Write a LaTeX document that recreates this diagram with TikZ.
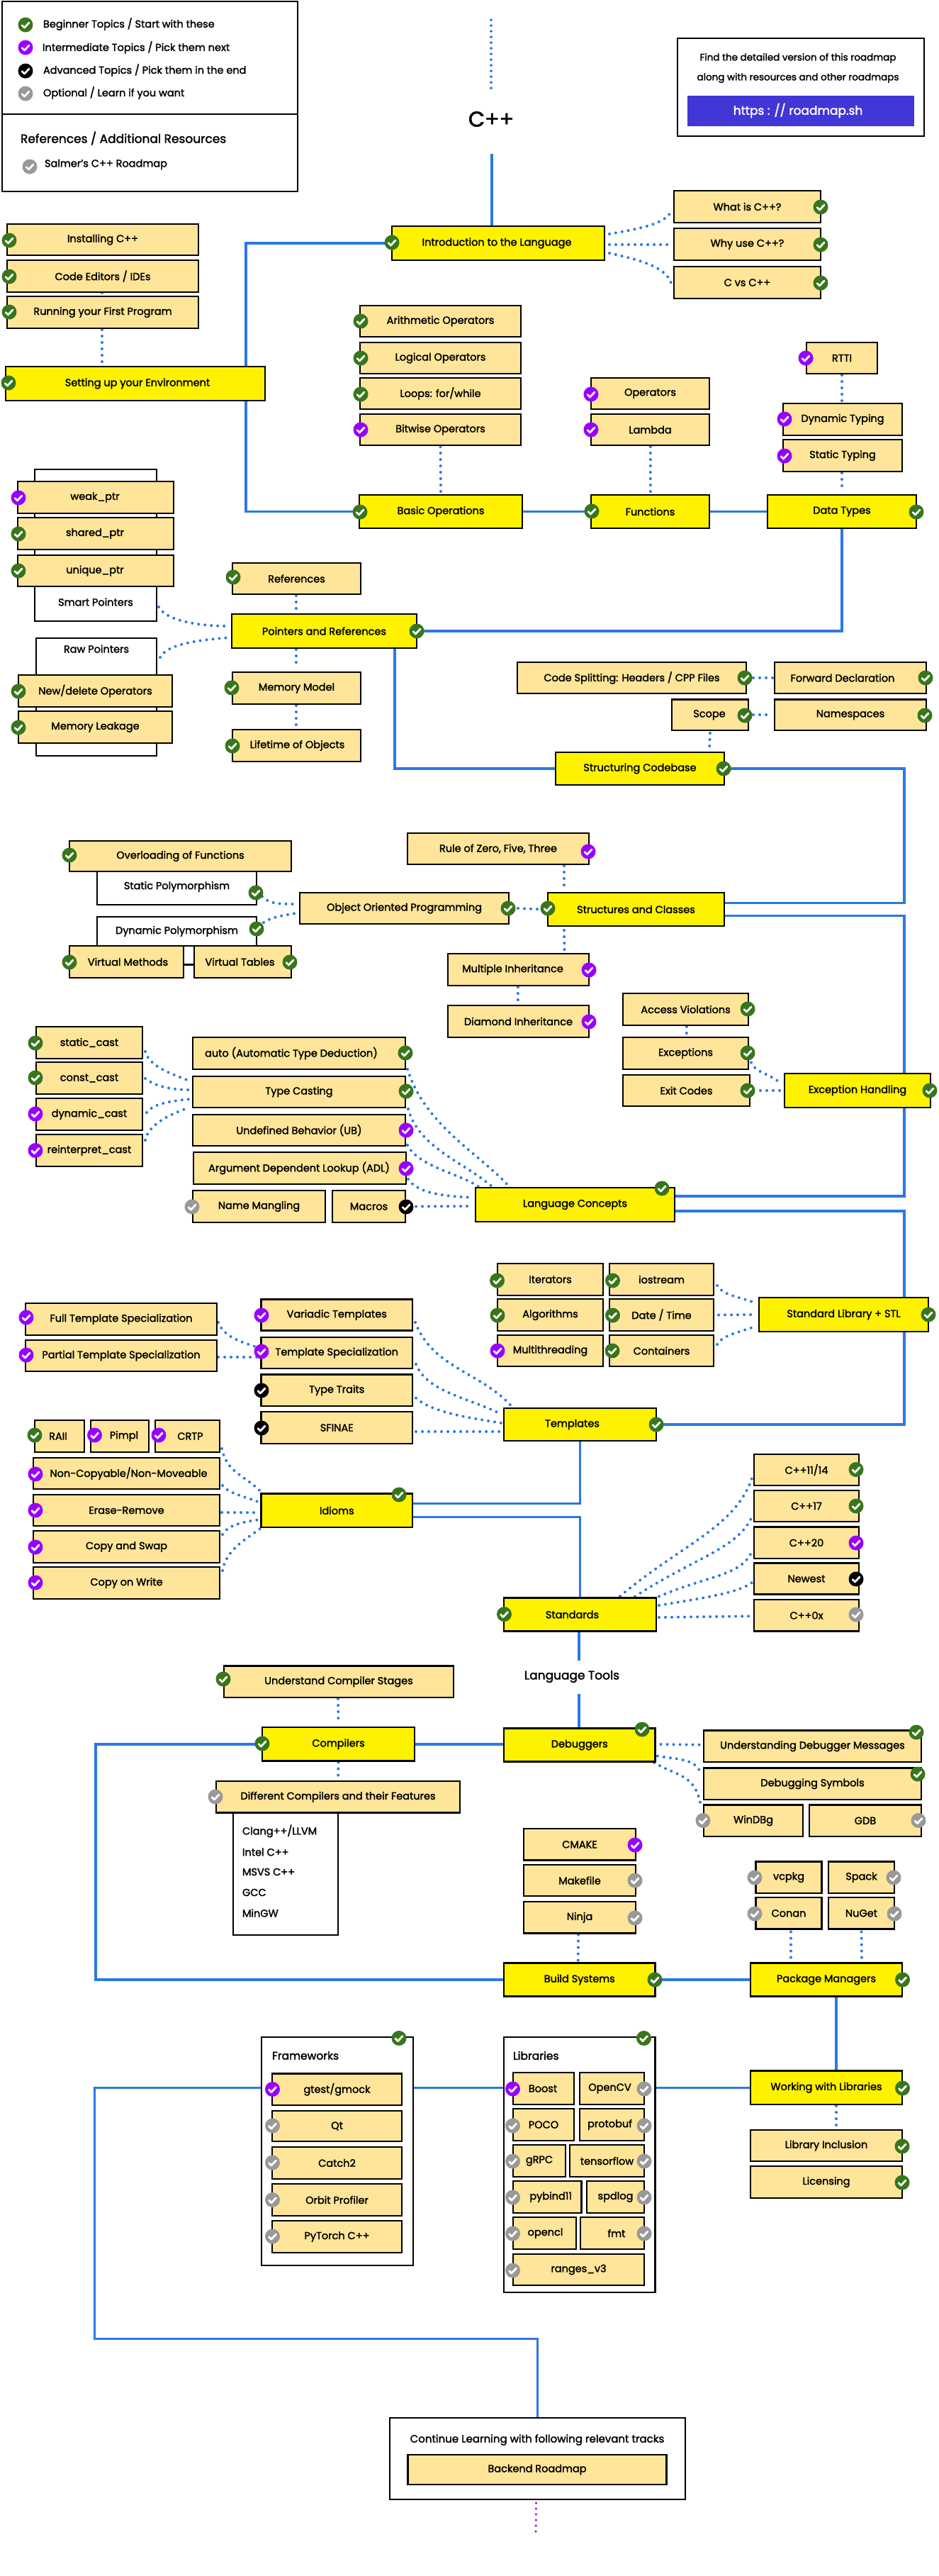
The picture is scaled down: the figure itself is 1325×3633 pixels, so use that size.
\documentclass[tikz,border=0pt]{standalone}
\usepackage{fontspec}
\setmainfont{Poppins}[FakeBold=2]
\usetikzlibrary{calc}
\definecolor{cg}{HTML}{38761D}
\definecolor{cp}{HTML}{9900FF}
\definecolor{ck}{HTML}{000000}
\definecolor{cy}{HTML}{999999}
\definecolor{bluec}{HTML}{2B78E4}
\definecolor{subc}{HTML}{FFE599}
\definecolor{btn}{HTML}{4136D6}
\pgfdeclarelayer{con}
\pgfsetlayers{con,main}
\newcounter{chkno}
\newcommand\nfont{\fontsize{14.5}{18}\selectfont}
\newcommand\sh[1]{\hspace*{\dimexpr#1pt*2\relax}}
\newcommand\bx[7]{\node[#1,minimum width={#5pt-#3pt},minimum height={#6pt-#4pt}] (#2) at ({(#3+#5)/2},{(#4+#6)/2}) {#7};}
\newcommand\chk[3]{\stepcounter{chkno}\node[chkdot,fill=#1] (ck\arabic{chkno}) at (#2,#3) {};}
\tikzset{
 anybox/.style={draw=black,line width=2.8pt,inner sep=0pt,outer sep=0pt,align=center,font=\nfont},
 subbox/.style={anybox,fill=subc},
 mainbox/.style={anybox,fill=yellow},
 panelbox/.style={anybox,fill=white},
 plain/.style={inner sep=0pt,outer sep=0pt,font=\nfont},
 lefttext/.style={plain,anchor=west},
 chkdot/.style={circle,minimum size=21pt,inner sep=0pt,outer sep=0pt,
   path picture={\draw[white,line width=2.8pt,line cap=round,line join=round]
   ($(path picture bounding box.center)+(-5,0.5)$) -- ++(3.5,3.5) -- ++(6.5,-7);}},
 solidc/.style={draw=bluec,line width=3.5pt},
 dotc/.style={draw=bluec,line width=4pt,line cap=round,dash pattern=on 0.01pt off 9pt},
 dotp/.style={draw=cp,line width=3.5pt,line cap=round,dash pattern=on 0.01pt off 8pt},
}
\begin{document}
\begin{tikzpicture}[x=1pt,y=-1pt]
\useasboundingbox (0,0) rectangle (1325,3633);
\begin{pgfonlayer}{con}\fill[white] (0,0) rectangle (1325,3633);\end{pgfonlayer}

% legend
\bx{panelbox}{lega}{3}{2}{420}{161}{}
\bx{panelbox}{legb}{3}{161}{420}{270}{}
\chk{cg}{36}{35}\node[lefttext] (l1) at (61,34) {Beginner Topics / Start with these};
\chk{cp}{36}{67}\node[lefttext] (l2) at (60,67) {Intermediate Topics / Pick them next};
\chk{ck}{36}{100}\node[lefttext] (l3) at (61,99) {Advanced Topics / Pick them in the end};
\chk{cy}{36}{132}\node[lefttext] (l4) at (61,131) {Optional / Learn if you want};
\node[lefttext,font=\fontsize{17}{22}\selectfont] (l5) at (29,195) {References / Additional Resources};
\chk{cy}{42}{235}\node[lefttext] (l6) at (63,232) {Salmer's C++ Roadmap};

% title and link box
\node[plain,font=\fontsize{30}{36}\selectfont] (cpp) at (693,168) {C++};
\bx{panelbox}{linkp}{956}{54}{1304}{192}{}
\node[plain,font=\fontsize{13.5}{16}\selectfont] (lk1) at (1126,82) {Find the detailed version of this roadmap};
\node[plain,font=\fontsize{13.5}{16}\selectfont] (lk2) at (1126,110) {along with resources and other roadmaps};
\node[fill=btn,text=white,inner sep=0pt,outer sep=0pt,minimum width=320pt,minimum height=43pt,font=\fontsize{17}{22}\selectfont] (lk3) at (1130,156) {\hspace*{-8pt}https : // roadmap.sh};

% white panels
\bx{panelbox}{smart}{49}{662}{221}{876}{\\[153pt]Smart Pointers}
\bx{panelbox}{raw}{51}{900}{221}{1066}{Raw Pointers\\[118pt]\mbox{}}
\bx{panelbox}{stp}{137}{1225}{362}{1276}{Static Polymorphism}
\bx{panelbox}{dyp}{137}{1293}{362}{1334}{Dynamic Polymorphism}
\bx{panelbox}{comps}{329}{2550}{477}{2729}{}
\bx{panelbox}{fw}{369}{2873}{583}{3195}{}
\bx{panelbox}{libs}{711}{2873}{924.5}{3233}{}
\bx{panelbox}{fin}{550}{3410}{967}{3525}{}
\node[lefttext] (c1) at (342,2582.5) {Clang++/LLVM};
\node[lefttext] (c2) at (342,2612) {Intel C++};
\node[lefttext] (c3) at (342,2640) {MSVS C++};
\node[lefttext] (c4) at (342,2669) {GCC};
\node[lefttext] (c5) at (342,2698) {MinGW};
\node[lefttext,font=\fontsize{15.5}{20}\selectfont] (fwt) at (384,2899) {Frameworks};
\node[lefttext,font=\fontsize{15.5}{20}\selectfont] (libt) at (724,2899) {Libraries};
\node[plain,font=\fontsize{15}{18}\selectfont] (fint) at (758,3441) {Continue Learning with following relevant tracks};

% first rows
\bx{mainbox}{intro}{553}{319}{853}{367}{\sh{-2}Introduction to the Language}
\bx{subbox}{what}{951}{269}{1158}{314}{What is C++?}
\bx{subbox}{why}{951}{322}{1158}{367}{Why use C++?}
\bx{subbox}{cvs}{951}{376}{1158}{421}{C vs C++}
\bx{subbox}{inst}{10}{316}{280}{360}{Installing C++}
\bx{subbox}{code}{10}{367}{280}{412}{Code Editors / IDEs}
\bx{subbox}{run}{10}{418}{280}{463}{Running your First Program}
\bx{mainbox}{setup}{8}{517}{374}{565}{\sh{3}Setting up your Environment}
\bx{subbox}{arith}{508}{431}{735}{475}{Arithmetic Operators}
\bx{subbox}{logic}{508}{483}{735}{527}{Logical Operators}
\bx{subbox}{loops}{508}{533}{735}{577}{Loops: for/while}
\bx{subbox}{bit}{508}{584}{735}{628}{Bitwise Operators}
\bx{subbox}{oper}{834}{533}{1001}{577}{Operators}
\bx{subbox}{lam}{834}{584}{1001}{628}{Lambda}
\bx{subbox}{rtti}{1138}{483}{1238}{527}{RTTI}
\bx{subbox}{dyn}{1105}{569}{1273}{614}{Dynamic Typing}
\bx{subbox}{stat}{1105}{620}{1273}{665}{Static Typing}
\bx{mainbox}{basic}{507}{698}{737}{745}{Basic Operations}
\bx{mainbox}{fn}{834}{698}{1001}{745}{Functions}
\bx{mainbox}{dtypes}{1083}{698}{1293}{745}{Data Types}

% pointers
\bx{subbox}{weak}{25}{679}{245}{724}{\sh{-1}weak\_ptr}
\bx{subbox}{shared}{25}{730}{245}{775}{\sh{-1}shared\_ptr}
\bx{subbox}{uniq}{25}{783}{245}{827}{\sh{-1}unique\_ptr}
\bx{subbox}{newd}{26}{952}{243}{997}{New/delete Operators}
\bx{subbox}{leak}{26}{1003}{243}{1048}{Memory Leakage}
\bx{subbox}{refs}{328}{794}{509}{838}{References}
\bx{mainbox}{ptr}{327}{866}{588}{914}{Pointers and References}
\bx{subbox}{mm}{328}{948}{509}{993}{Memory Model}
\bx{subbox}{life}{328}{1029}{509}{1074}{\sh{1}Lifetime of Objects}

% structuring
\bx{subbox}{split}{730}{934}{1053}{978}{Code Splitting: Headers / CPP Files}
\bx{subbox}{fwd}{1093}{934}{1307}{978}{\sh{-11}Forward Declaration}
\bx{subbox}{scope}{948}{986.5}{1056}{1030}{\sh{-1}Scope}
\bx{subbox}{ns}{1093}{986.5}{1307}{1030}{Namespaces}
\bx{mainbox}{sc}{784}{1061}{1022}{1107}{Structuring Codebase}

% OOP
\bx{subbox}{over}{98}{1186}{411}{1229}{Overloading of Functions}
\bx{subbox}{vm}{98}{1334}{259}{1379}{\sh{2}Virtual Methods}
\bx{subbox}{vt}{274}{1334}{411}{1379}{\sh{-4}Virtual Tables}
\bx{subbox}{oop}{423}{1259}{718}{1303}{Object Oriented Programming}
\bx{mainbox}{classes}{773}{1259}{1022}{1306}{Structures and Classes}
\bx{subbox}{rule}{575}{1175}{831}{1219}{Rule of Zero, Five, Three}
\bx{subbox}{multi}{632}{1345}{831}{1390}{\sh{-8}Multiple Inheritance}
\bx{subbox}{dia}{632}{1418}{831}{1463}{Diamond Inheritance}

% exceptions
\bx{subbox}{acc}{879}{1401}{1056}{1446}{Access Violations}
\bx{subbox}{exc}{879}{1463}{1056}{1508}{Exceptions}
\bx{subbox}{exit}{879}{1516}{1058}{1560}{Exit Codes}
\bx{mainbox}{eh}{1107}{1514}{1313}{1562}{Exception Handling}

% language concepts
\bx{subbox}{cast1}{51}{1448}{201}{1493}{static\_cast}
\bx{subbox}{cast2}{51}{1498}{201}{1543}{const\_cast}
\bx{subbox}{cast3}{51}{1549}{201}{1594}{dynamic\_cast}
\bx{subbox}{cast4}{51}{1600}{201}{1645}{reinterpret\_cast}
\bx{subbox}{auto}{272}{1463}{572}{1508}{\sh{-11}auto (Automatic Type Deduction)}
\bx{subbox}{type}{272}{1518}{572}{1562}{Type Casting}
\bx{subbox}{ub}{272}{1572}{572}{1616}{Undefined Behavior (UB)}
\bx{subbox}{adl}{273}{1625}{573}{1670}{\sh{-1}Argument Dependent Lookup (ADL)}
\bx{subbox}{nm}{272}{1679}{459}{1724}{Name Mangling}
\bx{subbox}{mac}{469}{1679}{572}{1724}{Macros}
\bx{mainbox}{lc}{671}{1675}{952}{1723}{Language Concepts}

% STL
\bx{subbox}{iter}{702}{1782}{851}{1827}{Iterators}
\bx{subbox}{ios}{860}{1782}{1007}{1827}{iostream}
\bx{subbox}{algo}{702}{1832}{851}{1877}{Algorithms}
\bx{subbox}{date}{860}{1832}{1007}{1877}{Date / Time}
\bx{subbox}{mt}{702}{1883}{851}{1927}{Multithreading}
\bx{subbox}{cont}{860}{1883}{1007}{1927}{Containers}
\bx{mainbox}{stl}{1071}{1830}{1310}{1878}{Standard Library + STL}

% templates
\bx{subbox}{full}{36}{1838}{306}{1883}{Full Template Specialization}
\bx{subbox}{part}{36}{1890}{306}{1934}{Partial Template Specialization}
\bx{subbox}{vari}{368.5}{1832.5}{582}{1876.5}{Variadic Templates}
\bx{subbox}{ts}{368.5}{1886}{582}{1930}{Template Specialization}
\bx{subbox}{tt}{368.5}{1938.5}{582}{1983}{Type Traits}
\bx{subbox}{sfinae}{368.5}{1991}{582}{2036}{SFINAE}
\bx{mainbox}{tmpl}{711}{1986}{926}{2032}{\sh{-11}Templates}

% idioms
\bx{subbox}{raii}{49}{2003}{119}{2048}{\sh{-2}RAII}
\bx{subbox}{pimpl}{128}{2003}{210}{2048}{\sh{6}Pimpl}
\bx{subbox}{crtp}{219}{2003}{310}{2048}{\sh{4}CRTP}
\bx{subbox}{nc}{47}{2056}{310}{2100}{\sh{3}Non-Copyable/Non-Moveable}
\bx{subbox}{erase}{47}{2108}{310}{2152}{Erase-Remove}
\bx{subbox}{swap}{47}{2159}{310}{2204}{Copy and Swap}
\bx{subbox}{cow}{47}{2210}{310}{2255}{Copy on Write}
\bx{mainbox}{idioms}{368.5}{2106.5}{582}{2154}{Idioms}

% standards
\bx{subbox}{s11}{1064}{2051}{1212}{2095}{C++11/14}
\bx{subbox}{s17}{1064}{2102}{1212}{2146}{C++17}
\bx{subbox}{s20}{1064}{2153.5}{1212}{2198}{C++20}
\bx{subbox}{snew}{1064}{2204.5}{1212}{2248.5}{Newest}
\bx{subbox}{s0x}{1064}{2256}{1212}{2300.5}{C++0x}
\bx{mainbox}{std}{711}{2253.5}{926}{2300.5}{\sh{-11}Standards}
\node[plain,font=\fontsize{17}{22}\selectfont] (ltools) at (807,2364.5) {Language Tools};

% tools
\bx{subbox}{ucs}{316}{2349.5}{640}{2394}{Understand Compiler Stages}
\bx{mainbox}{comp}{370}{2436}{585}{2483.5}{Compilers}
\bx{mainbox}{dbg}{711}{2437.5}{924.5}{2484.5}{Debuggers}
\bx{subbox}{diff}{305}{2512}{649}{2556.5}{Different Compilers and their Features}
\bx{subbox}{udm}{993}{2440.5}{1300}{2485}{Understanding Debugger Messages}
\bx{subbox}{dsym}{993}{2493.5}{1300}{2538}{Debugging Symbols}
\bx{subbox}{wind}{993}{2545.5}{1133}{2590}{WinDBg}
\bx{subbox}{gdb}{1142}{2545.5}{1300}{2590}{GDB}
\bx{subbox}{cmake}{739}{2579}{897}{2623.5}{CMAKE}
\bx{subbox}{mkf}{739}{2630}{897}{2674}{Makefile}
\bx{subbox}{ninja}{739}{2682}{897}{2726.5}{Ninja}
\bx{mainbox}{build}{711}{2768.5}{924.5}{2815.5}{Build Systems}
\bx{mainbox}{pm}{1059}{2768.5}{1273}{2815.5}{Package Managers}
\bx{subbox}{vcpkg}{1066.5}{2625.5}{1159.5}{2670}{vcpkg}
\bx{subbox}{spack}{1169}{2625.5}{1262}{2670}{Spack}
\bx{subbox}{conan}{1066.5}{2676}{1159.5}{2720.5}{Conan}
\bx{subbox}{nuget}{1169}{2676}{1262}{2720.5}{NuGet}
\bx{mainbox}{wl}{1059}{2920.5}{1273}{2968}{Working with Libraries}
\bx{subbox}{inc}{1059}{3004}{1273}{3048}{Library Inclusion}
\bx{subbox}{lic}{1059}{3055}{1273}{3100}{Licensing}

% frameworks and libraries
\bx{subbox}{gtest}{384}{2924.5}{567}{2969}{gtest/gmock}
\bx{subbox}{qt}{384}{2977}{567}{3020}{Qt}
\bx{subbox}{catch}{384}{3028}{567}{3073}{Catch2}
\bx{subbox}{orbit}{384}{3080}{567}{3125}{Orbit Profiler}
\bx{subbox}{pyt}{384}{3132}{567}{3177}{PyTorch C++}
\bx{subbox}{boost}{724}{2923}{810}{2968}{\sh{-1}Boost}
\bx{subbox}{ocv}{818}{2923}{909}{2968}{\sh{-3}OpenCV}
\bx{subbox}{poco}{724}{2974}{810}{3019}{POCO}
\bx{subbox}{proto}{818}{2974}{909}{3019}{\sh{-3}protobuf}
\bx{subbox}{grpc}{724}{3025}{798}{3070}{gRPC}
\bx{subbox}{tens}{804}{3025}{909}{3070}{tensorflow}
\bx{subbox}{pyb}{724}{3076}{820.5}{3121}{\sh{5}pybind11}
\bx{subbox}{spd}{828}{3076}{909}{3121}{spdlog}
\bx{subbox}{ocl}{724}{3127}{813}{3172}{\sh{1}opencl}
\bx{subbox}{fmt}{819}{3127}{909}{3172}{\sh{6}fmt}
\bx{subbox}{rng}{724}{3179}{909}{3223}{ranges\_v3}
\bx{subbox}{back}{575.5}{3462}{940.5}{3504}{Backend Roadmap}

% check marks
\chk{cg}{553}{342}\chk{cg}{1158}{292}\chk{cg}{1158}{345}\chk{cg}{1158}{399}
\chk{cg}{13}{339}\chk{cg}{13}{390}\chk{cg}{13}{440}\chk{cg}{12}{540}
\chk{cg}{509}{453}\chk{cg}{509}{505}\chk{cg}{509}{556}\chk{cp}{509}{606}
\chk{cp}{834}{556}\chk{cp}{834}{606}\chk{cp}{1137}{505}\chk{cp}{1107}{591}\chk{cp}{1107}{643}
\chk{cg}{508}{722}\chk{cg}{835}{721}\chk{cg}{1293}{722}
\chk{cp}{26}{702}\chk{cg}{26}{753}\chk{cg}{26}{805}\chk{cg}{26}{975}\chk{cg}{26}{1026}
\chk{cg}{329}{814}\chk{cg}{588}{890}\chk{cg}{327}{970}\chk{cg}{328}{1052}
\chk{cg}{1051}{956}\chk{cg}{1306}{956}\chk{cg}{1051}{1009}\chk{cg}{1305}{1009}\chk{cg}{1021}{1084}
\chk{cg}{98}{1206}\chk{cg}{361}{1259}\chk{cg}{362}{1310}\chk{cg}{98}{1357}\chk{cg}{409}{1357}
\chk{cg}{717}{1281}\chk{cg}{773}{1281}\chk{cp}{830}{1201}\chk{cp}{831}{1368}\chk{cp}{831}{1441}
\chk{cg}{1055}{1423}\chk{cg}{1055}{1485}\chk{cg}{1055}{1538}\chk{cg}{1312}{1538}
\chk{cg}{50}{1471}\chk{cg}{50}{1520}\chk{cp}{50}{1571}\chk{cp}{50}{1622.5}
\chk{cg}{572}{1485}\chk{cg}{573}{1539}\chk{cp}{573}{1594}\chk{cp}{573}{1648}\chk{cy}{271}{1702}\chk{ck}{573}{1702}\chk{cg}{934}{1676}
\chk{cg}{701.5}{1806}\chk{cg}{864.5}{1806}\chk{cg}{702}{1855}\chk{cg}{864.5}{1855}\chk{cp}{702}{1905}\chk{cg}{864}{1905}\chk{cg}{1310}{1854}
\chk{cp}{37}{1858}\chk{cp}{37}{1911}\chk{cp}{369}{1855}\chk{cp}{369}{1906}\chk{ck}{369}{1961}\chk{ck}{369}{2014}\chk{cg}{926}{2009}
\chk{cg}{49}{2024}\chk{cp}{133.5}{2024}\chk{cp}{224}{2024}\chk{cp}{50}{2079}\chk{cp}{50}{2130}\chk{cp}{50}{2182}\chk{cp}{50}{2232}\chk{cg}{563}{2108}
\chk{cg}{1208}{2072.5}\chk{cg}{1208}{2124}\chk{cp}{1208}{2176}\chk{ck}{1208}{2227}\chk{cy}{1208}{2277}\chk{cg}{711.5}{2276.5}
\chk{cg}{315}{2368}\chk{cg}{370}{2459}\chk{cg}{906}{2439}\chk{cy}{304}{2534}
\chk{cg}{1293}{2443}\chk{cg}{1295}{2502}\chk{cy}{992}{2567.5}\chk{cy}{1296}{2567.5}
\chk{cp}{896}{2602}\chk{cy}{896}{2652}\chk{cy}{896}{2705}\chk{cg}{924}{2792}\chk{cg}{1273.5}{2792}
\chk{cy}{1065}{2648}\chk{cy}{1261}{2648}\chk{cy}{1065}{2699}\chk{cy}{1262}{2699}
\chk{cg}{1273.5}{2945}\chk{cg}{1273}{3027}\chk{cg}{1273}{3078}
\chk{cg}{563}{2874.5}\chk{cg}{908.5}{2874.5}
\chk{cp}{384.5}{2946.5}\chk{cy}{384.5}{2998}\chk{cy}{384.5}{3050}\chk{cy}{384.5}{3102.5}\chk{cy}{384.5}{3154}
\chk{cp}{723.5}{2946}\chk{cy}{909}{2946}\chk{cy}{723.5}{2998}\chk{cy}{909}{2998}
\chk{cy}{723.5}{3048}\chk{cy}{909}{3048}\chk{cy}{723.5}{3099}\chk{cy}{909}{3099}
\chk{cy}{723.5}{3150}\chk{cy}{909}{3150}\chk{cy}{723.5}{3202}

% free ends
\coordinate (topd) at (693,28);
\coordinate (cppb) at ($(cpp)+(1,49)$);
\coordinate (lta) at ($(ltools)+(10,-23)$);
\coordinate (ltb) at ($(ltools)+(10,24)$);
\coordinate (endd) at (756,3577);

\begin{pgfonlayer}{con}
% solid connectors
\draw[solidc] (cppb) -- (cppb |- intro.north);
\draw[solidc] (intro.west) -- ++(-206,0) |- (basic.west);
\draw[solidc] (basic.east) -- (fn.west);
\draw[solidc] (fn.east) -- (dtypes.west);
\draw[solidc] (dtypes.south) |- (ptr.east);
\draw[solidc] ($(ptr.south east)+(-31,0)$) |- (sc.west);
\draw[solidc] (sc.east) -- ++(254,0) |- ($(classes.east)+(0,-9)$);
\draw[solidc] ($(classes.east)+(0,9)$) -- ++(254,0) |- ($(lc.east)+(0,-12)$);
\draw[solidc] ($(lc.east)+(0,9)$) -- ++(324,0) |- (tmpl.east);
\draw[solidc] (tmpl.south) |- ($(idioms.east)+(0,-10)$);
\draw[solidc] ($(idioms.east)+(0,9)$) -| (std.north);
\draw[solidc] (lta |- std.south) -- (lta);
\draw[solidc] (ltb) -- (ltb |- dbg.north);
\draw[solidc] (comp.east) -- (comp.east -| dbg.west);
\draw[solidc] (comp.west) -- ++(-235,0) |- (build.west);
\draw[solidc] (build.east) -- (pm.west);
\draw[solidc] ($(pm.south)+(14,0)$) -- ($(wl.north)+(14,0)$);
\draw[solidc] (wl.west) -- (wl.west -| libs.east);
\draw[solidc] (libs.west |- wl.west) -- (fw.east |- wl.west);
\draw[solidc] (fw.west |- wl.west) -- ++(-235.5,0) -- ++(0,354) -| (fin.north);
\draw[black,line width=3pt] ($(vm.east)+(0,4)$) -- ($(vt.west)+(0,4)$);

% dotted straight connectors
\draw[dotc,line width=3.5pt,dash pattern=on 0.01pt off 8pt] (topd) -- ($(cpp)+(0,-36)$);
\draw[dotc] ($(intro.east)+(7,2)$) -- ($(why.west)+(-3,0.5)$);
\draw[dotc] ($(code.south)+(-1,1)$) -- ($(run.north)+(-1,-1)$);
\draw[dotc] ($(run.south)+(-1,2)$) -- ($(setup.north)+(-47,-2)$);
\draw[dotc] ($(bit.south)+(0,2)$) -- ($(basic.north)+(0,-4)$);
\draw[dotc] ($(lam.south)+(0,2)$) -- ($(fn.north)+(0,-2)$);
\draw[dotc] ($(rtti.south)+(0,2)$) -- ($(dyn.north)+(-1,-3)$);
\draw[dotc] ($(stat.south)+(-1,2)$) -- ($(dtypes.north)+(0,-4)$);
\draw[dotc] ($(refs.south)+(-1,2)$) -- ($(ptr.north)+(-40,-1)$);
\draw[dotc] ($(ptr.south)+(-40,2)$) -- ($(mm.north)+(-1,-6)$);
\draw[dotc] ($(mm.south)+(-1,2)$) -- ($(life.north)+(-1,-6)$);
\draw[dotc] ($(split.east)+(10,0)$) -- ($(fwd.west)+(-1,0)$);
\draw[dotc] ($(scope.east)+(7,0)$) -- ($(ns.west)+(-5,0)$);
\draw[dotc] ($(scope.south)+(0,4)$) -- ($(sc.north)+(98,-4)$);
\draw[dotc] ($(oop.east)+(13,0)$) -- ($(classes.west)+(-8,0)$);
\draw[dotc] ($(rule.south)+(93,2)$) -- ($(classes.north)+(-101.5,-5)$);
\draw[dotc] ($(classes.south)+(-101.5,6)$) -- ($(multi.north)+(65,-2)$);
\draw[dotc] ($(multi.south)+(-1,2)$) -- ($(dia.north)+(-1,-4)$);
\draw[dotc] ($(acc.south)+(1,2)$) -- ($(exc.north)+(1,-3)$);
\draw[dotc] ($(exit.east)+(15,0)$) -- ($(eh.west)+(-4,0)$);
\draw[dotc] ($(mac.east)+(15,0)$) -- ($(lc.west)+(-3,2)$);
\draw[dotc] ($(date.east)+(7,0)$) -- ($(stl.west)+(-4,0)$);
\draw[dotc] ($(part.east)+(2,2)$) -- ($(ts.west)+(-5.5,6)$);
\draw[dotc] ($(sfinae.east)+(5,5.5)$) -- ($(tmpl.west)+(-3,10)$);
\draw[dotc] ($(erase.east)+(3,3)$) -- ($(idioms.west)+(-3.5,3)$);
\draw[dotc] ($(std.east)+(4,4)$) -- ($(s0x.west)+(-6,1)$);
\draw[dotc] ($(ucs.south)+(-1,2)$) -- ($(comp.north)+(0,-4)$);
\draw[dotc] ($(comp.south)+(0,2)$) -- ($(diff.north)+(0,-2)$);
\draw[dotc] ($(dbg.east)+(8,-1)$) -- ($(udm.west)+(-4,-2)$);
\draw[dotc] ($(ninja.south)+(-2,2)$) -- ($(build.north)+(-2,-3)$);
\draw[dotc] ($(conan.south)+(3,4)$) -- ($(pm.north)+(-50,-3)$);
\draw[dotc] ($(nuget.south)+(0,4)$) -- ($(pm.north)+(50,-3)$);
\draw[dotc] ($(wl.south)+(14,2)$) -- ($(inc.north)+(14,-2)$);
\draw[dotp] ($(fin.south)+(-2,5)$) -- (endd);

% dotted curved connectors
\draw[dotc] ($(intro.east)+(7,-13)$) .. controls +(45,-8) and +(-5,20) .. ($(what.west)+(-3,3.5)$);
\draw[dotc] ($(intro.east)+(7,14)$) .. controls +(45,10) and +(-5,-25) .. ($(cvs.west)+(-3,4)$);
\draw[dotc] ($(smart.east)+(3,87)$) .. controls +(12,22) and +(-30,0) .. ($(ptr.west)+(-6,-7)$);
\draw[dotc] ($(raw.east)+(5,-56)$) .. controls +(12,-22) and +(-30,3) .. ($(ptr.west)+(-2,9)$);
\draw[dotc] ($(stp.east)+(8,14)$) .. controls +(10,10) and +(-25,0) .. ($(oop.west)+(-6,-6)$);
\draw[dotc] ($(dyp.east)+(10,-12.5)$) .. controls +(12,-8) and +(-22,4) .. ($(oop.west)+(-6,7)$);
\draw[dotc] ($(exc.east)+(4,13)$) .. controls +(6,14) and +(-18,-14) .. ($(eh.west)+(-6,-11)$);
\draw[dotc] ($(cast1.east)+(4,12.5)$) .. controls +(6,22) and +(-25,-10) .. ($(type.west)+(-3,-15)$);
\draw[dotc] ($(cast2.east)+(4,0.5)$) .. controls +(15,12) and +(-20,0) .. ($(type.west)+(-6,-3)$);
\draw[dotc] ($(cast3.east)+(6,-2.5)$) .. controls +(10,-14) and +(-20,2) .. ($(type.west)+(-3,10)$);
\draw[dotc] ($(cast4.east)+(4,-14.5)$) .. controls +(5,-25) and +(-20,8) .. ($(type.west)+(-6,22)$);
\draw[dotc] ($(auto.south east)+(3,0)$) .. controls +(25,80) and +(-40,-45) .. ($(lc.north west)+(47,-2)$);
\draw[dotc] ($(type.south east)+(4,2)$) .. controls +(15,55) and +(-40,-35) .. ($(lc.north west)+(24,-1)$);
\draw[dotc] ($(ub.south east)+(3,-1)$) .. controls +(15,30) and +(-30,-20) .. ($(lc.north west)+(5,-1)$);
\draw[dotc] ($(adl.south east)+(3,-7)$) .. controls +(15,22) and +(-35,-2) .. ($(lc.west)+(-3,-10)$);
\draw[dotc] ($(ios.east)+(5,8.5)$) .. controls +(10,15) and +(-25,-10) .. ($(stl.west)+(-4,-16)$);
\draw[dotc] ($(cont.east)+(5,-9)$) .. controls +(10,-15) and +(-25,10) .. ($(stl.west)+(-4,16)$);
\draw[dotc] ($(full.east)+(2,4.5)$) .. controls +(8,20) and +(-25,-8) .. ($(ts.west)+(-5.5,-8)$);
\draw[dotc] ($(vari.east)+(4,10.5)$) .. controls +(25,65) and +(-45,-50) .. ($(tmpl.north west)+(11.5,-2)$);
\draw[dotc] ($(ts.east)+(5,16)$) .. controls +(15,40) and +(-40,-22) .. ($(tmpl.north west)+(-3,9)$);
\draw[dotc] ($(tt.east)+(5,11)$) .. controls +(25,22) and +(-35,-6) .. ($(tmpl.west)+(-3,-2)$);
\draw[dotc] ($(crtp.east)+(3,17.5)$) .. controls +(8,35) and +(-25,-25) .. ($(idioms.north west)+(0,-2.5)$);
\draw[dotc] ($(nc.east)+(4,17)$) .. controls +(10,12) and +(-20,-8) .. ($(idioms.west)+(-3.5,-12)$);
\draw[dotc] ($(swap.east)+(4,-17.5)$) .. controls +(8,-14) and +(-20,3) .. ($(idioms.west)+(-3.5,13)$);
\draw[dotc] ($(cow.east)+(4,-17.5)$) .. controls +(5,-30) and +(-20,15) .. ($(idioms.west)+(-0.5,25)$);
\draw[dotc] ($(std.north)+(56.5,-2.5)$) .. controls +(90,-75) and +(-25,70) .. ($(s11.west)+(-3,12)$);
\draw[dotc] ($(std.north)+(77.5,-2)$) .. controls +(85,-55) and +(-20,45) .. ($(s17.west)+(-3,15)$);
\draw[dotc] ($(std.north east)+(4,-2)$) .. controls +(70,-30) and +(-15,35) .. ($(s20.west)+(-3,12)$);
\draw[dotc] ($(std.east)+(4,-13)$) .. controls +(60,-10) and +(-20,15) .. ($(snew.west)+(-3,5.5)$);
\draw[dotc] ($(dbg.east)+(3.5,15.5)$) .. controls +(30,5) and +(-5,-22) .. ($(dsym.west)+(-4,-13)$);
\draw[dotc] ($(dbg.south east)+(-1.5,1.5)$) .. controls +(35,20) and +(-8,-45) .. ($(wind.north west)+(-4,1.5)$);
\end{pgfonlayer}
\end{tikzpicture}
\end{document}
